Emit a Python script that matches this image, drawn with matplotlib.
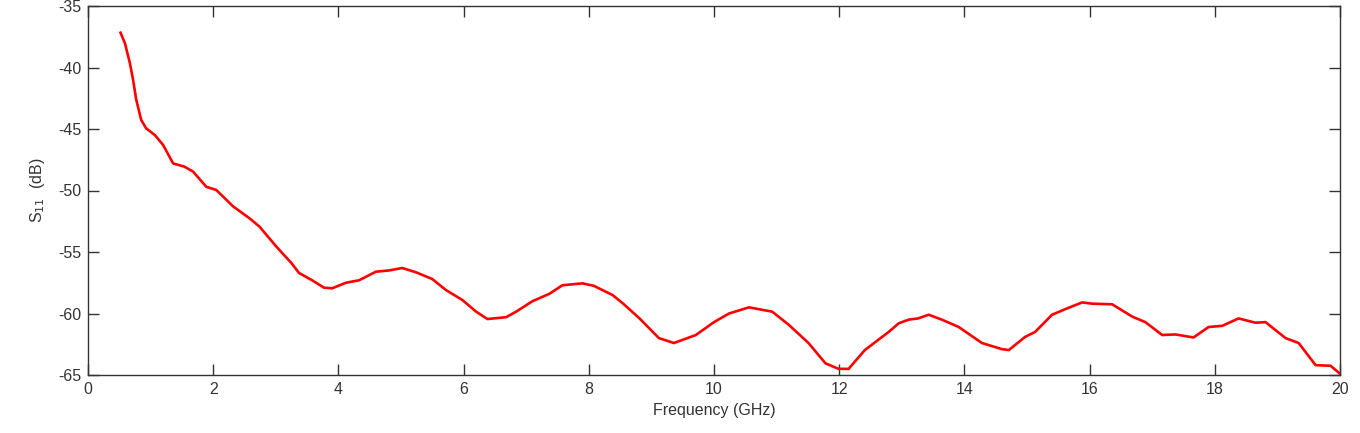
import matplotlib
matplotlib.use("Agg")
import matplotlib.pyplot as plt

plt.rcParams['axes.unicode_minus'] = False
plt.rcParams['font.family'] = ['Liberation Sans', 'DejaVu Sans']

freq_ghz = [0.52, 0.59, 0.67, 0.72, 0.77, 0.85, 0.93, 1.07, 1.20, 1.36, 1.54, 1.68, 1.89,
            2.05, 2.32, 2.58, 2.74, 3.01, 3.25, 3.37, 3.58, 3.77, 3.90, 4.12, 4.33, 4.60,
            4.81, 5.02, 5.24, 5.50, 5.72, 5.98, 6.20, 6.38, 6.68, 6.84, 7.10, 7.37, 7.58,
            7.90, 8.08, 8.38, 8.55, 8.81, 9.12, 9.36, 9.71, 10.00, 10.24, 10.56,
            10.93, 11.19, 11.51, 11.78, 11.99, 12.15, 12.41, 12.79, 12.95, 13.11, 13.26,
            13.43, 13.64, 13.91, 14.28, 14.60, 14.71, 14.97, 15.13, 15.40, 15.61, 15.88,
            16.04, 16.36, 16.68, 16.89, 17.16, 17.37, 17.66, 17.90, 18.12, 18.38, 18.65,
            18.81, 19.13, 19.34, 19.61, 19.85, 20.00]
s11_db = [-37.17, -38.03, -39.66, -41.0, -42.6, -44.27, -44.95, -45.5, -46.3, -47.8, -48.06,
          -48.47, -49.7, -49.96, -51.3, -52.26, -52.94, -54.57, -55.9, -56.7, -57.3, -57.9,
          -57.95, -57.5, -57.3, -56.6, -56.5, -56.3, -56.65, -57.2, -58.1, -58.9, -59.85,
          -60.45, -60.3, -59.85, -59.0, -58.4, -57.7, -57.55, -57.75, -58.5, -59.2,
          -60.4, -62.0, -62.4, -61.75, -60.7, -60.0, -59.5, -59.85, -60.9, -62.4, -64.05,
          -64.5, -64.5, -62.97, -61.5, -60.8, -60.5, -60.4, -60.1, -60.5, -61.1, -62.4,
          -62.9, -62.97, -61.9, -61.5, -60.1, -59.65, -59.1, -59.2, -59.25, -60.25, -60.7,
          -61.75, -61.7, -61.95, -61.1, -61.0, -60.4, -60.75, -60.7, -62.0, -62.4, -64.2,
          -64.25, -64.9]

x_ticks = [0, 2, 4, 6, 8, 10, 12, 14, 16, 18, 20]
y_ticks = [-65, -60, -55, -50, -45, -40, -35]

fig = plt.figure(figsize=(13.6, 4.33), dpi=100)
ax = fig.add_axes([88/1360, 58/433, (1340-88)/1360, (375-6)/433])
ax.plot(freq_ghz, s11_db, color='#ff0000', linewidth=1.9, solid_joinstyle='round')
ax.set_xlim(0, 20)
ax.set_ylim(-65, -35)
ax.set_xticks(x_ticks)
ax.set_yticks(y_ticks)
ax.set_xticklabels([str(t) for t in x_ticks])
ax.set_yticklabels([str(t) for t in y_ticks])
txtc = '#333333'
ax.tick_params(direction='in', length=8, width=1, top=True, right=True,
               colors='#333333', labelsize=11.5, labelcolor=txtc, pad=5)
for s in ax.spines.values():
    s.set_color('#333333')
    s.set_linewidth(1)
ax.set_xlabel('Frequency (GHz)', fontsize=11.5, color=txtc, labelpad=4)
ax.set_ylabel('S$_{11}$  (dB)', fontsize=11.5, color=txtc, labelpad=8)
fig.savefig('out.png', dpi=100)
